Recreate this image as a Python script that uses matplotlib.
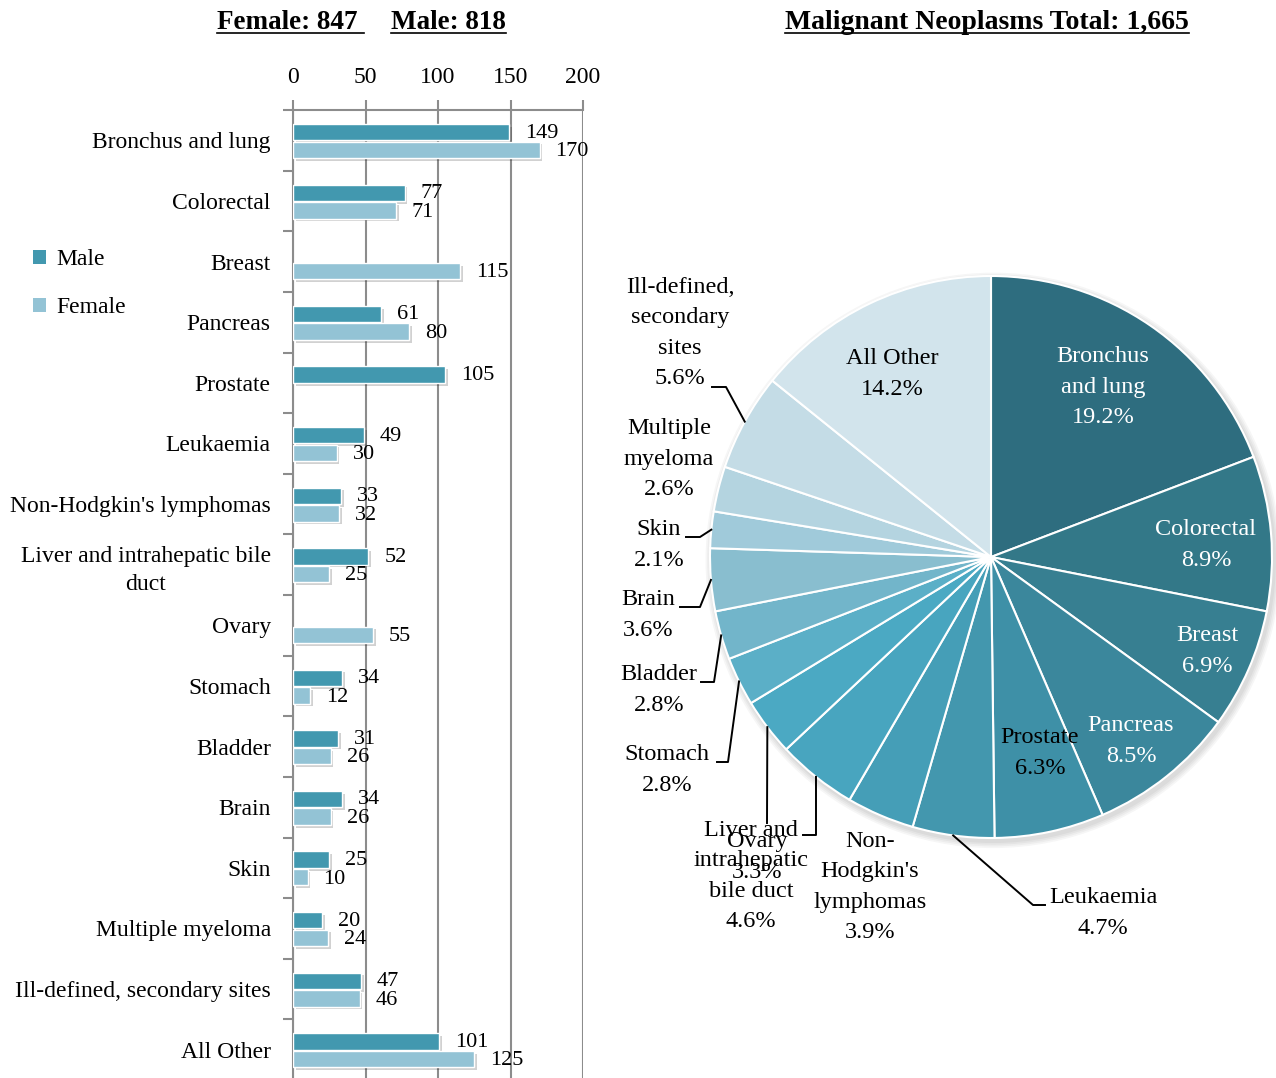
import numpy as np
import matplotlib
matplotlib.use('Agg')
import matplotlib.pyplot as plt
import matplotlib.patheffects as pe
from matplotlib.patches import Patch, Circle
from matplotlib.lines import Line2D

plt.rcParams['font.family'] = ['Liberation Serif', 'DejaVu Serif']

# --- data -------------------------------------------------------------
sites = ['Bronchus and lung', 'Colorectal', 'Breast', 'Pancreas', 'Prostate',
         'Leukaemia', "Non-Hodgkin's lymphomas",
         'Liver and intrahepatic bile\nduct', 'Ovary', 'Stomach', 'Bladder',
         'Brain', 'Skin', 'Multiple myeloma', 'Ill-defined, secondary sites',
         'All Other']
male = [149, 77, None, 61, 105, 49, 33, 52, None, 34, 31, 34, 25, 20, 47, 101]
female = [170, 71, 115, 80, None, 30, 32, 25, 55, 12, 26, 26, 10, 24, 46, 125]
xticks = [0, 50, 100, 150, 200]

pie_names = ['Bronchus\nand lung', 'Colorectal', 'Breast', 'Pancreas',
             'Prostate', 'Leukaemia', "Non-\nHodgkin's\nlymphomas",
             'Liver and\nintrahepatic\nbile duct', 'Ovary', 'Stomach',
             'Bladder', 'Brain', 'Skin', 'Multiple\nmyeloma',
             'Ill-defined,\nsecondary\nsites', 'All Other']
pie_pct = [19.2, 8.9, 6.9, 8.5, 6.3, 4.7, 3.9, 4.6, 3.3, 2.8, 2.8, 3.6,
           2.1, 2.6, 5.6, 14.2]

male_color = '#4298AF'
female_color = '#93C3D5'
pie_colors = ['#2E6D7F', '#337888', '#377F91', '#3B879C', '#3E90A7',
              '#4397AE', '#459EB7', '#48A5BF', '#4BA9C3', '#5BAFC7',
              '#72B5CA', '#89BECF', '#A0CADA', '#B4D4E0', '#C4DCE6',
              '#D2E4EC']

W, H = 1276, 1078
fig = plt.figure(figsize=(W / 100, H / 100), dpi=100)
grey = '#8C8C8C'

# --- bar chart ------------------------------------------------------------
axb = fig.add_axes([293 / W, -2 / H, 290 / W, 970 / H])
n = len(sites)
y = np.arange(n)
bh = 0.27
shadow = [pe.SimplePatchShadow(offset=(2, -2), alpha=0.18, shadow_rgbFace='black'),
          pe.Normal()]
for i in range(n):
    if male[i] is not None:
        axb.barh(y[i] - 0.135, male[i], height=bh, color=male_color,
                 edgecolor='white', linewidth=1, path_effects=shadow, zorder=3)
        axb.text(male[i] + 11, y[i] - 0.12, str(male[i]), va='center',
                 fontsize=16, zorder=4)
    if female[i] is not None:
        axb.barh(y[i] + 0.155, female[i], height=bh, color=female_color,
                 edgecolor='white', linewidth=1, path_effects=shadow, zorder=3)
        axb.text(female[i] + 11, y[i] + 0.185, str(female[i]), va='center',
                 fontsize=16, zorder=4)

axb.set_xlim(0, 200)
axb.set_ylim(n - 0.5, -0.5)
axb.set_xticks(xticks)
axb.xaxis.tick_top()
axb.tick_params(axis='x', length=7, width=1.5, color=grey, pad=9, labelsize=17)
axb.set_yticks(y, sites, multialignment='center')
axb.set_yticks(np.arange(-0.5, n, 1.0), minor=True)
axb.tick_params(axis='y', which='major', length=0, pad=16, labelsize=17)
axb.tick_params(axis='y', which='minor', length=7, width=1.5, color=grey)
for lab in axb.get_yticklabels():
    lab.set_linespacing(1.45)
axb.grid(axis='x', color=grey, linewidth=1.5)
axb.set_axisbelow(True)
for s in ['right', 'bottom']:
    axb.spines[s].set_visible(False)
for s in ['top', 'left']:
    axb.spines[s].set_color(grey)
    axb.spines[s].set_linewidth(1.5)

fig.legend([Patch(facecolor=male_color), Patch(facecolor=female_color)],
           ['Male', 'Female'], loc='upper left',
           bbox_to_anchor=(33 / W, 1 - 249 / H), frameon=False, fontsize=17,
           handlelength=0.55, handleheight=0.55, handletextpad=0.45,
           labelspacing=1.15, borderpad=0, borderaxespad=0)

# --- pie chart ------------------------------------------------------------
cx, cy, R = 991, 557, 281
axp = fig.add_axes([600 / W, 0, (W - 600) / W, 1])


def to_pie(px, py):
    return (px - cx) / R, (cy - py) / R


for k in range(4):
    axp.add_patch(Circle((0.008, -0.012), 1 + 0.006 * (k + 1), color='black',
                         alpha=0.035, zorder=0, lw=0))
axp.pie(pie_pct, colors=pie_colors, startangle=90, counterclock=False,
        wedgeprops=dict(edgecolor='white', linewidth=1.5))
axp.set_xlim((600 - cx) / R, (W - cx) / R)
axp.set_ylim((cy - H) / R, cy / R)
axp.set_aspect('auto')
axp.axis('off')

# label centres and leader elbows (pixel coordinates)
label_pos = [(1103, 387), (1206, 545), (1207, 651), (1131, 741), (1040, 753),
             (1103, 913), (870, 887), (751, 876), (757, 857), (667, 770),
             (659, 690), (648, 615), (659, 545), (669, 459), (680, 333),
             (892, 374)]
leaders = {5: [(1033, 905), (1045, 905)],
           7: [(816, 835), (803, 835)],
           8: [(767, 823)],
           9: [(728, 762), (717, 762)],
           10: [(714, 682), (701, 682)],
           11: [(700, 607), (680, 607)],
           12: [(700, 537), (686, 537)],
           14: [(726, 387), (712, 387)]}

cum = np.cumsum(pie_pct)
for i, (name, p) in enumerate(zip(pie_names, pie_pct)):
    color = 'white' if i < 4 else 'black'
    tx, ty = to_pie(*label_pos[i])
    axp.text(tx, ty, f'{name}\n{p:.1f}%', ha='center', va='center',
             multialignment='center', fontsize=17.5, color=color,
             linespacing=1.6, zorder=5)
    if i in leaders:
        t = np.deg2rad((cum[i] - p / 2) * 3.6)
        pts = [(np.sin(t), np.cos(t))] + [to_pie(*q) for q in leaders[i]]
        xs, ys = zip(*pts)
        axp.plot(xs, ys, color='black', lw=1.4, zorder=4)

# --- titles ---------------------------------------------------------------
titles = [(217, 'Female: 847 ', 19.5), (391, 'Male: 818', 19.5),
          (785, 'Malignant Neoplasms Total: 1,665', 20)]
tobjs = [fig.text(x / W, 1 - 29 / H, s, fontsize=fs, fontweight='bold',
                  va='baseline') for x, s, fs in titles]
fig.canvas.draw()
for t in tobjs:
    bb = t.get_window_extent()
    fig.add_artist(Line2D([bb.x0 / W, bb.x1 / W], [1 - 33 / H, 1 - 33 / H],
                          transform=fig.transFigure, color='black', lw=1.2))

fig.savefig('out.png', dpi=100)
